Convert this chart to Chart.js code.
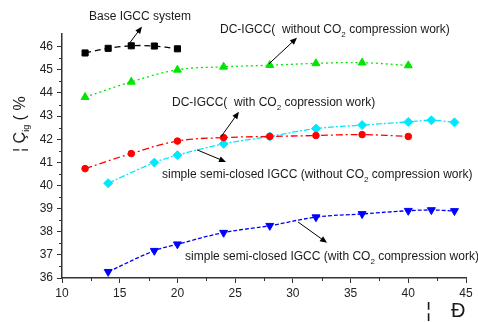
<!DOCTYPE html>
<html>
<head>
<meta charset="utf-8">
<script src="https://cdn.jsdelivr.net/npm/chart.js@4.4.1/dist/chart.umd.min.js"></script>
<style>
  html, body { margin: 0; padding: 0; background: #fff; }
  #wrap { width: 478px; height: 322px; }
</style>
</head>
<body>
<div id="wrap"><canvas id="chart"></canvas></div>
<script>
// Values
const baseX = [12, 14, 16, 18, 20];
const baseY = [45.73, 45.93, 46.04, 46.03, 45.91];

const dcNoCompX = [12, 16, 20, 24, 28, 32, 36, 40];
const dcNoCompY = [43.82, 44.48, 45.0, 45.13, 45.2, 45.28, 45.31, 45.19];

const dcCompX = [12, 16, 20, 24, 28, 32, 36, 40];
const dcCompY = [40.73, 41.38, 41.92, 42.07, 42.12, 42.16, 42.2, 42.12];

const semiNoCompX = [14, 18, 20, 24, 28, 32, 36, 40, 42, 44];
const semiNoCompY = [40.1, 40.99, 41.31, 41.8, 42.12, 42.46, 42.61, 42.75, 42.82, 42.73];

const semiCompX = [14, 18, 20, 24, 28, 32, 36, 40, 42, 44];
const semiCompY = [36.27, 37.18, 37.46, 37.96, 38.26, 38.63, 38.77, 38.91, 38.94, 38.9];

const xTicks = [10, 15, 20, 25, 30, 35, 40, 45];
const yTicks = [36, 37, 38, 39, 40, 41, 42, 43, 44, 45, 46];

const FONT = '"Liberation Sans", Arial, sans-serif';

function pts(xs, ys) {
    return xs.map((x, i) => ({ x: x, y: ys[i] }));
}

// Text labels with arrows, in data coordinates
const notes = [
    { parts: [['Base IGCC system', 0]], at: [12.34, 47.28], from: [15.72, 46.07], to: [16.93, 46.87] },
    { parts: [['DC-IGCC(  without CO', 0], ['2', 1], [' compression work)', 0]], at: [23.69, 46.74], from: [27.93, 45.26], to: [30.36, 46.39] },
    { parts: [['DC-IGCC(  with CO', 0], ['2', 1], [' copression work)', 0]], at: [19.53, 43.58], from: [23.77, 42.10], to: [25.33, 43.19] },
    { parts: [['simple semi-closed IGCC (without CO', 0], ['2', 1], [' compression work)', 0]], at: [18.66, 40.46], from: [21.70, 41.54], to: [24.21, 41.02] },
    { parts: [['simple semi-closed IGCC (with CO', 0], ['2', 1], [' compression work)', 0]], at: [20.66, 36.91], from: [30.45, 38.42], to: [32.96, 37.52] }
];

function drawParts(ctx, parts, x, y, size, subSize, subShift) {
    let cx = x;
    parts.forEach(p => {
        const sub = p[1] === 1;
        ctx.font = (sub ? subSize : size) + 'px ' + FONT;
        ctx.fillText(p[0], cx, y + (sub ? subShift : 0));
        cx += ctx.measureText(p[0]).width;
    });
}

function arrow(ctx, x1, y1, x2, y2) {
    const a = Math.atan2(y2 - y1, x2 - x1);
    const len = 7, w = 3;
    ctx.beginPath();
    ctx.moveTo(x1, y1);
    ctx.lineTo(x2 - Math.cos(a) * len * 0.8, y2 - Math.sin(a) * len * 0.8);
    ctx.stroke();
    ctx.beginPath();
    ctx.moveTo(x2, y2);
    ctx.lineTo(x2 - Math.cos(a) * len + Math.sin(a) * w, y2 - Math.sin(a) * len - Math.cos(a) * w);
    ctx.lineTo(x2 - Math.cos(a) * len - Math.sin(a) * w, y2 - Math.sin(a) * len + Math.cos(a) * w);
    ctx.closePath();
    ctx.fill();
}

const extras = {
    id: 'extras',
    afterDraw(chart) {
        const ctx = chart.ctx;
        const xs = chart.scales.x, ys = chart.scales.y;
        const area = chart.chartArea;
        ctx.save();

        // minor ticks
        ctx.strokeStyle = '#333';
        ctx.lineWidth = 1;
        ctx.beginPath();
        for (let v = 12.5; v < 45; v += 5) {
            const px = Math.round(xs.getPixelForValue(v)) + 0.5;
            ctx.moveTo(px, area.bottom);
            ctx.lineTo(px, area.bottom + 3);
        }
        for (let v = 36.5; v < 46.5; v += 1) {
            const py = Math.round(ys.getPixelForValue(v)) + 0.5;
            ctx.moveTo(area.left, py);
            ctx.lineTo(area.left - 3, py);
        }
        ctx.stroke();

        // notes
        ctx.fillStyle = '#1a1a1a';
        ctx.strokeStyle = '#000';
        ctx.lineWidth = 1;
        ctx.textBaseline = 'middle';
        ctx.textAlign = 'left';
        notes.forEach(n => {
            drawParts(ctx, n.parts, xs.getPixelForValue(n.at[0]), ys.getPixelForValue(n.at[1]), 12, 8, 5);
            ctx.fillStyle = '#000';
            arrow(ctx, xs.getPixelForValue(n.from[0]), ys.getPixelForValue(n.from[1]),
                  xs.getPixelForValue(n.to[0]), ys.getPixelForValue(n.to[1]));
            ctx.fillStyle = '#1a1a1a';
        });

        // y axis title (rotated)
        ctx.save();
        ctx.translate(25, 152);
        ctx.rotate(-Math.PI / 2);
        ctx.textBaseline = 'alphabetic';
        drawParts(ctx, [['\u00A6 \u00C7', 0], ['ig', 1], [' ( %', 0]], 0, 0, 16, 9, 4);
        ctx.restore();

        // x axis title
        ctx.textBaseline = 'alphabetic';
        ctx.font = '20px ' + FONT;
        ctx.fillText('\u00A6', 426, 317);
        ctx.fillText('\u00D0', 451, 317);

        ctx.restore();
    }
};

function series(xs, ys, color, style, radius, dash, rotation) {
    return {
        data: pts(xs, ys),
        showLine: true,
        borderColor: color,
        backgroundColor: color,
        borderWidth: 1.3,
        borderDash: dash,
        tension: 0.4,
        pointStyle: style,
        pointRadius: radius,
        pointRotation: rotation || 0,
        pointBorderWidth: 1,
        pointBorderColor: color,
        pointBackgroundColor: color
    };
}

new Chart(document.getElementById('chart'), {
    type: 'scatter',
    data: {
        datasets: [
            series(baseX, baseY, '#000000', 'rect', 4.3, [6, 4]),
            series(dcNoCompX, dcNoCompY, '#00e600', 'triangle', 4.6, [2, 3]),
            series(dcCompX, dcCompY, '#ff0000', 'circle', 3.3, [7, 3, 2, 3]),
            series(semiNoCompX, semiNoCompY, '#00e8ff', 'rectRot', 4.5, [6, 2, 2, 2]),
            series(semiCompX, semiCompY, '#0000ff', 'triangle', 4.6, [4, 2], 180)
        ]
    },
    options: {
        responsive: true,
        maintainAspectRatio: false,
        animation: false,
        events: [],
        layout: { padding: { top: 34, right: 12, left: 0, bottom: 0 } },
        plugins: { legend: { display: false }, tooltip: { enabled: false } },
        scales: {
            x: {
                type: 'linear',
                min: 10,
                max: 45,
                afterBuildTicks: s => { s.ticks = xTicks.map(v => ({ value: v })); },
                afterFit: s => { s.height = 44; },
                ticks: { font: { family: FONT, size: 12 }, color: '#222', padding: 3, maxRotation: 0, autoSkip: false },
                grid: { drawOnChartArea: false, tickLength: 5, tickColor: '#333', tickWidth: 1 },
                border: { color: '#333', width: 1.5 }
            },
            y: {
                min: 36,
                max: 46.55,
                afterBuildTicks: s => { s.ticks = yTicks.map(v => ({ value: v })); },
                afterFit: s => { s.width = 62; },
                ticks: { font: { family: FONT, size: 12 }, color: '#222', padding: 4, autoSkip: false },
                grid: { drawOnChartArea: false, tickLength: 5, tickColor: '#333', tickWidth: 1 },
                border: { color: '#333', width: 1.5 }
            }
        }
    },
    plugins: [extras]
});
</script>
</body>
</html>
